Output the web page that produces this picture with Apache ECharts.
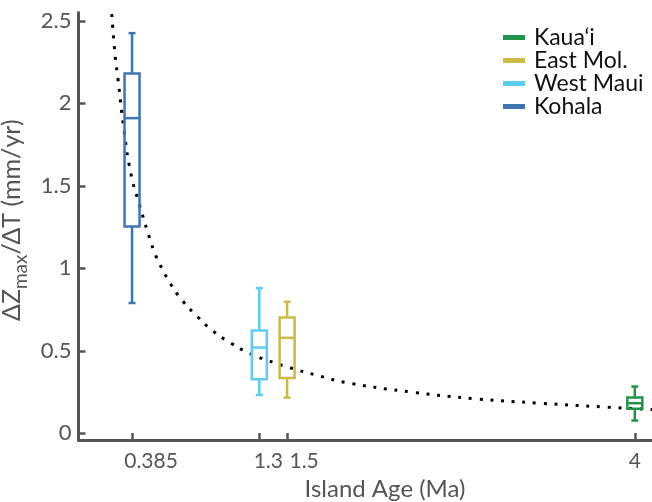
<!DOCTYPE html>
<html>
<head>
<meta charset="utf-8">
<script src="https://cdn.jsdelivr.net/npm/echarts@6/dist/echarts.min.js"></script>
<style>
  html, body { margin: 0; padding: 0; background: #fff; }
  #chart { width: 652px; height: 502px; }
</style>
</head>
<body>
<div id="chart"></div>
<script>
// Uplift-rate distributions per island, plotted against island age
const islands = ['Kaua‘i', 'East Mol.', 'West Maui', 'Kohala'];
const islandAges = [4, 1.5, 1.3, 0.385];
const whiskerLow = [0.078, 0.217, 0.233, 0.79];
const quartile1 = [0.15, 0.335, 0.328, 1.253];
const medians = [0.183, 0.579, 0.52, 1.91];
const quartile3 = [0.217, 0.702, 0.623, 2.18];
const whiskerHigh = [0.284, 0.797, 0.88, 2.425];
const islandColors = ['#23924a', '#cdb94a', '#5ecbf0', '#3f74b0'];

// Dotted decay trend, sampled along the curve
const trendAge = [0.239, 0.264, 0.283, 0.328, 0.376, 0.436, 0.527, 0.551, 0.659, 0.747,
  0.855, 0.963, 1.09, 1.229, 1.37, 1.516, 1.732, 1.952, 2.408, 2.863, 3.318, 3.798, 4.2];
const trendRate = [2.54, 2.284, 2.153, 1.833, 1.577, 1.391, 1.142, 1.084, 0.91, 0.805,
  0.708, 0.623, 0.55, 0.486, 0.439, 0.399, 0.348, 0.304, 0.249, 0.209, 0.183, 0.159, 0.142];

// Tick positions
const ageTicks = [0.385, 1.3, 1.5, 4];
const rateTicks = [0, 0.5, 1, 1.5, 2, 2.5];

const axisGray = '#555555';
const fontFamily = 'Lato, "Open Sans", sans-serif';

// Age labels sit a little right of their ticks
const ageLabelStyle = { 0.385: 'p38', 1.3: 'p18', 1.5: 'p34', 4: 'p0' };

function boxRenderer(color) {
  return function (params, api) {
    const x = api.value(0);
    const pLow = api.coord([x, api.value(1)]);
    const pQ1 = api.coord([x, api.value(2)]);
    const pMed = api.coord([x, api.value(3)]);
    const pQ3 = api.coord([x, api.value(4)]);
    const pHigh = api.coord([x, api.value(5)]);
    const cx = pLow[0];
    const halfBox = 7.5;
    const halfCap = 3.5;
    const style = { stroke: color, lineWidth: 2.5, fill: null };
    return {
      type: 'group',
      children: [
        { type: 'line', shape: { x1: cx, y1: pLow[1], x2: cx, y2: pQ1[1] }, style },
        { type: 'line', shape: { x1: cx, y1: pQ3[1], x2: cx, y2: pHigh[1] }, style },
        { type: 'line', shape: { x1: cx - halfCap, y1: pLow[1], x2: cx + halfCap, y2: pLow[1] }, style },
        { type: 'line', shape: { x1: cx - halfCap, y1: pHigh[1], x2: cx + halfCap, y2: pHigh[1] }, style },
        { type: 'rect', shape: { x: cx - halfBox, y: pQ3[1], width: halfBox * 2, height: pQ1[1] - pQ3[1] }, style },
        { type: 'line', shape: { x1: cx - halfBox, y1: pMed[1], x2: cx + halfBox, y2: pMed[1] }, style }
      ]
    };
  };
}

const boxSeries = islands.map(function (name, i) {
  return {
    type: 'custom',
    name: name,
    itemStyle: { color: islandColors[i] },
    renderItem: boxRenderer(islandColors[i]),
    encode: { x: 0, y: [1, 2, 3, 4, 5] },
    data: [[islandAges[i], whiskerLow[i], quartile1[i], medians[i], quartile3[i], whiskerHigh[i]]],
    z: 3
  };
});

const labelFont = { fontFamily, fontSize: 21, color: axisGray };

const chart = echarts.init(document.getElementById('chart'), null, { renderer: 'canvas' });

chart.setOption({
  animation: false,
  backgroundColor: '#ffffff',
  grid: { left: 78.5, right: 0.5, top: 12.5, bottom: 62, containLabel: false, outerBoundsMode: 'none' },
  legend: {
    data: islands,
    orient: 'vertical',
    left: 498,
    top: 21,
    itemWidth: 22,
    itemHeight: 5,
    itemGap: 0,
    icon: 'rect',
    textStyle: { fontFamily, fontSize: 23, color: '#111', lineHeight: 22, padding: [0, 0, 0, 4] }
  },
  xAxis: {
    type: 'value',
    min: 0,
    max: 4.12,
    name: 'Island Age (Ma)',
    nameLocation: 'middle',
    nameGap: 35,
    nameTextStyle: { fontFamily, fontSize: 24, color: axisGray, padding: [0, 0, 0, 40] },
    axisLine: { show: true, onZero: false, lineStyle: { color: axisGray, width: 3 } },
    axisTick: { show: true, inside: true, length: 7, customValues: ageTicks, lineStyle: { color: axisGray, width: 2.5 } },
    axisLabel: {
      customValues: ageTicks,
      margin: 11,
      formatter: v => '{' + ageLabelStyle[v] + '|' + v + '}',
      rich: {
        p0: Object.assign({}, labelFont),
        p18: Object.assign({ padding: [0, 0, 0, 18] }, labelFont),
        p34: Object.assign({ padding: [0, 0, 0, 34] }, labelFont),
        p38: Object.assign({ padding: [0, 0, 0, 38] }, labelFont)
      }
    },
    splitLine: { show: false }
  },
  yAxis: {
    type: 'value',
    min: -0.04,
    max: 2.55,
    name: '{a|ΔZ}{s|max}{a|/ΔT (mm/yr)}',
    nameLocation: 'middle',
    nameGap: 33,
    nameRotate: 90,
    nameTextStyle: {
      color: axisGray,
      padding: [0, 0, 0, 12],
      rich: {
        a: { fontFamily, fontSize: 25, color: axisGray, lineHeight: 30, verticalAlign: 'top' },
        s: { fontFamily, fontSize: 19, color: axisGray, lineHeight: 22, padding: [12, 0, 0, 0], verticalAlign: 'bottom' }
      }
    },
    axisLine: { show: true, lineStyle: { color: axisGray, width: 3 } },
    axisTick: { show: true, inside: true, length: 7, customValues: rateTicks, lineStyle: { color: axisGray, width: 2.5 } },
    axisLabel: { customValues: rateTicks, margin: 7, fontFamily, fontSize: 22, color: axisGray, formatter: v => String(v) },
    splitLine: { show: false }
  },
  series: [
    {
      type: 'line',
      name: 'trend',
      data: trendAge.map((a, i) => [a, trendRate[i]]),
      smooth: true,
      showSymbol: false,
      clip: true,
      silent: true,
      lineStyle: { color: '#000', width: 3, type: [3, 7.7], cap: 'butt' },
      z: 2
    }
  ].concat(boxSeries)
});
</script>
</body>
</html>
